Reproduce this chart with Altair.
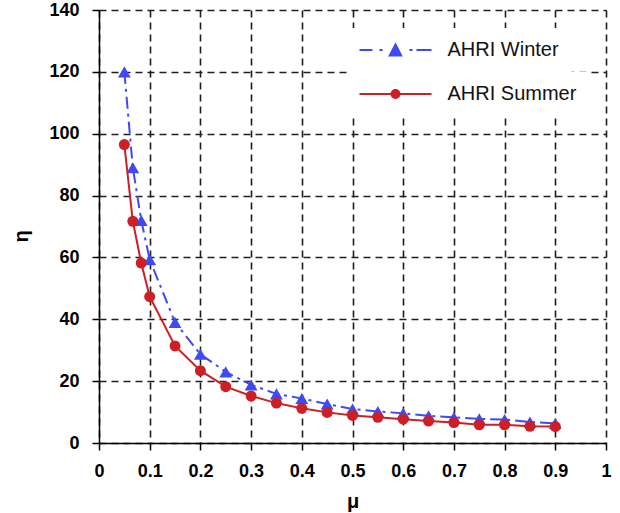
import altair as alt
import pandas as pd

# Load ratio mu and the resulting eta for the two AHRI rating conditions
mu = [0.05, 0.0667, 0.0833, 0.1, 0.15, 0.2, 0.25, 0.3, 0.35, 0.4,
      0.45, 0.5, 0.55, 0.6, 0.65, 0.7, 0.75, 0.8, 0.85, 0.9]
eta_winter = [120, 89, 72, 59.3, 39, 28.7, 23, 18.8, 15.9, 14.4,
              12.6, 11, 10.2, 9.6, 8.8, 8.3, 7.8, 7.6, 6.8, 6.3]
eta_summer = [96.5, 71.7, 58.2, 47.3, 31.4, 23.4, 18.2, 15.2, 12.9, 11.2,
              9.9, 8.9, 8.3, 7.7, 7.1, 6.6, 5.9, 5.9, 5.4, 5.3]

series_names = ["AHRI Winter", "AHRI Summer"]
series_colors = ["#3f4af3", "#cc1f26"]

x_ticks = [0, 0.1, 0.2, 0.3, 0.4, 0.5, 0.6, 0.7, 0.8, 0.9, 1]
y_ticks = [0, 20, 40, 60, 80, 100, 120, 140]

df = pd.DataFrame({
    "mu": mu + mu,
    "eta": eta_winter + eta_summer,
    "series": [series_names[0]] * len(mu) + [series_names[1]] * len(mu),
})

FONT = "Liberation Sans"
GRID = dict(grid=True, gridDash=[7, 5], gridColor="#1e1e1e", gridWidth=1.6)

x_enc = alt.X(
    "mu:Q",
    scale=alt.Scale(domain=[0, 1], nice=False, zero=False),
    axis=alt.Axis(
        values=x_ticks, format="~g", title="μ",
        labelFont=FONT, labelFontSize=18, labelFontWeight="bold", labelColor="black",
        labelPadding=12, labelFlush=False,
        tickSize=7, tickColor="black", tickWidth=1.5,
        domainColor="black", domainWidth=1.5,
        titleFont=FONT, titleFontSize=20, titleFontWeight="bold", titleColor="black",
        titleY=64, titleBaseline="alphabetic",
        **GRID,
    ),
)
y_enc = alt.Y(
    "eta:Q",
    scale=alt.Scale(domain=[0, 140], nice=False),
    axis=alt.Axis(
        values=y_ticks, title="η",
        labelFont=FONT, labelFontSize=18, labelFontWeight="bold", labelColor="black",
        labelPadding=13,
        tickSize=7, tickColor="black", tickWidth=1.5,
        domainColor="black", domainWidth=1.5,
        titleFont=FONT, titleFontSize=20, titleFontWeight="bold", titleColor="black",
        titleAngle=270, titleX=-72, titleY=226, titleBaseline="alphabetic",
        **GRID,
    ),
)

base = alt.Chart(df)
winter = base.transform_filter(alt.datum.series == series_names[0])
summer = base.transform_filter(alt.datum.series == series_names[1])

winter_line = winter.mark_line(
    color=series_colors[0], strokeWidth=2, strokeDash=[12, 5, 3, 5]
).encode(x=x_enc, y=y_enc)
winter_pts = winter.mark_point(
    shape="triangle-up", filled=True, size=165, opacity=1, color=series_colors[0]
).encode(x=x_enc, y=y_enc)
summer_line = summer.mark_line(
    color=series_colors[1], strokeWidth=2
).encode(x=x_enc, y=y_enc)
summer_pts = summer.mark_point(
    shape="circle", filled=True, size=121, opacity=1, color=series_colors[1]
).encode(x=x_enc, y=y_enc)

# Legend keys: line sample with its marker in the middle
winter_key = ("M-2,0L0.6,0M2,0L2.6,0M5.2,-1.1L6.34,1.1L4.06,1.1Z"
              "M8,0L8.6,0M9.4,0L12.4,0")
summer_key = "M-2,0L12.4,0M4.4,0A0.8,0.8,0,1,1,6,0A0.8,0.8,0,1,1,4.4,0Z"


def legend_layer(data, name, color, key, ly):
    return data.mark_point(filled=True, opacity=0).encode(
        x=x_enc, y=y_enc,
        color=alt.Color(
            "series:N",
            scale=alt.Scale(domain=[name], range=[color]),
            legend=alt.Legend(
                title=None, orient="none", legendX=248.5, legendY=ly,
                fillColor="white", padding=12,
                symbolType=key, symbolSize=100, symbolStrokeWidth=2,
                symbolStrokeColor=color, symbolOpacity=1,
                labelFont=FONT, labelFontSize=20, labelColor="#111111",
                labelOffset=68, labelLimit=400,
            ),
        ),
    )


winter_leg = legend_layer(winter, series_names[0], series_colors[0], winter_key, 18)
summer_leg = legend_layer(summer, series_names[1], series_colors[1], summer_key, 62)

chart = (
    alt.layer(winter_line, winter_pts, summer_line, summer_pts, winter_leg, summer_leg)
    .resolve_scale(color="independent")
    .properties(
        width=507, height=433,
        autosize=alt.AutoSizeParams(type="none"),
        padding={"left": 99, "top": 10, "right": 14, "bottom": 70},
        background="white",
    )
    .configure_view(strokeWidth=0)
)

chart.save("out.html", embed_options={"renderer": "svg", "actions": False})
